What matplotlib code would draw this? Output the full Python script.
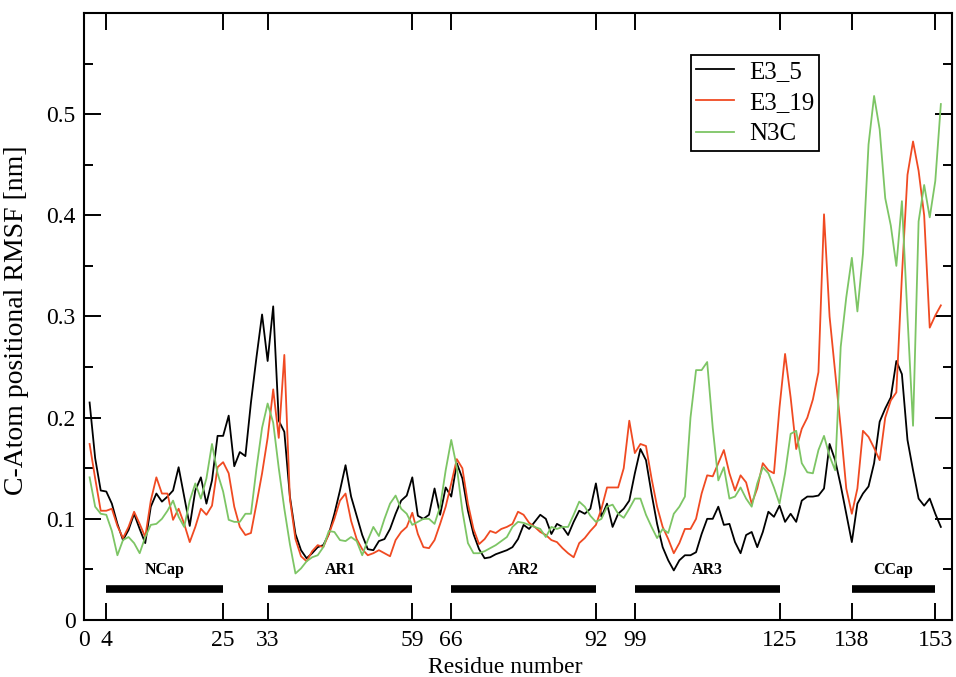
import numpy as np
import matplotlib
matplotlib.use("Agg")
import matplotlib.pyplot as plt
from matplotlib.ticker import FixedLocator, MultipleLocator

plt.rcParams['font.family'] = ['Liberation Serif', 'DejaVu Serif']

residues = list(range(1, 155))

e3_5 = [0.215, 0.16, 0.128, 0.127, 0.115, 0.095, 0.079, 0.089, 0.105, 0.09,
        0.076, 0.112, 0.125, 0.117, 0.122, 0.128, 0.151, 0.122, 0.093, 0.128,
        0.141, 0.115, 0.138, 0.182, 0.182, 0.202, 0.152, 0.166, 0.162, 0.215,
        0.26, 0.302, 0.256, 0.31, 0.197, 0.186, 0.122, 0.085, 0.069, 0.061,
        0.066, 0.072, 0.074, 0.085, 0.105, 0.128, 0.153, 0.122, 0.103, 0.084,
        0.07, 0.069, 0.078, 0.08, 0.09, 0.105, 0.118, 0.123, 0.141, 0.103,
        0.1, 0.104, 0.13, 0.104, 0.131, 0.122, 0.155, 0.14, 0.108, 0.085,
        0.07, 0.061, 0.062, 0.065, 0.067, 0.069, 0.072, 0.08, 0.094, 0.09,
        0.097, 0.104, 0.1, 0.085, 0.095, 0.092, 0.084, 0.097, 0.108, 0.105,
        0.11, 0.135, 0.102, 0.115, 0.092, 0.105, 0.11, 0.118, 0.145, 0.169,
        0.158, 0.125, 0.095, 0.072, 0.059, 0.049, 0.059, 0.064, 0.064, 0.067,
        0.085, 0.1, 0.1, 0.112, 0.094, 0.095, 0.077, 0.066, 0.084, 0.087,
        0.072, 0.087, 0.107, 0.102, 0.113, 0.097, 0.105, 0.097, 0.118, 0.122,
        0.122, 0.123, 0.13, 0.174, 0.158, 0.133, 0.105, 0.077, 0.115, 0.125,
        0.132, 0.155, 0.196, 0.209, 0.22, 0.256, 0.243, 0.178, 0.148, 0.12,
        0.113, 0.12, 0.105, 0.092]

e3_19 = [0.174, 0.14, 0.108, 0.108, 0.11, 0.093, 0.081, 0.092, 0.107, 0.095,
         0.082, 0.118, 0.141, 0.125, 0.125, 0.099, 0.11, 0.095, 0.077, 0.092,
         0.11, 0.104, 0.113, 0.151, 0.156, 0.145, 0.112, 0.092, 0.084, 0.086,
         0.115, 0.145, 0.18, 0.228, 0.18, 0.262, 0.12, 0.08, 0.063, 0.058,
         0.068, 0.074, 0.072, 0.085, 0.1, 0.118, 0.125, 0.098, 0.08, 0.07,
         0.064, 0.066, 0.069, 0.066, 0.063, 0.079, 0.087, 0.092, 0.106, 0.085,
         0.072, 0.071, 0.079, 0.095, 0.112, 0.135, 0.159, 0.15, 0.115, 0.09,
         0.075, 0.08, 0.088, 0.086, 0.09, 0.092, 0.095, 0.107, 0.104, 0.096,
         0.092, 0.087, 0.084, 0.079, 0.077, 0.071, 0.066, 0.062, 0.076, 0.081,
         0.088, 0.094, 0.11, 0.131, 0.131, 0.131, 0.15, 0.197, 0.165, 0.174,
         0.172, 0.14, 0.112, 0.092, 0.08, 0.066, 0.076, 0.09, 0.09, 0.1,
         0.125, 0.143, 0.142, 0.155, 0.168, 0.145, 0.128, 0.143, 0.136, 0.115,
         0.13, 0.155, 0.148, 0.145, 0.21, 0.263, 0.22, 0.169, 0.189, 0.2,
         0.218, 0.245, 0.401, 0.3, 0.245, 0.19, 0.13, 0.105, 0.13, 0.187,
         0.181, 0.17, 0.158, 0.2, 0.217, 0.225, 0.34, 0.44, 0.473, 0.444,
         0.4, 0.289, 0.301, 0.311]

n3c = [0.141, 0.112, 0.105, 0.104, 0.088, 0.064, 0.079, 0.082, 0.076, 0.066,
       0.082, 0.094, 0.095, 0.1, 0.108, 0.118, 0.102, 0.092, 0.118, 0.135,
       0.12, 0.14, 0.174, 0.145, 0.127, 0.099, 0.097, 0.097, 0.105, 0.105,
       0.15, 0.19, 0.214, 0.195, 0.15, 0.11, 0.075, 0.046, 0.051, 0.058,
       0.062, 0.064, 0.072, 0.088, 0.087, 0.079, 0.078, 0.082, 0.078, 0.064,
       0.079, 0.092, 0.083, 0.1, 0.115, 0.123, 0.11, 0.105, 0.094, 0.097,
       0.1, 0.1, 0.095, 0.112, 0.148, 0.178, 0.151, 0.108, 0.076, 0.066,
       0.066, 0.068, 0.071, 0.074, 0.078, 0.082, 0.092, 0.097, 0.096, 0.094,
       0.092, 0.09, 0.082, 0.092, 0.09, 0.092, 0.092, 0.104, 0.117, 0.112,
       0.103, 0.097, 0.1, 0.112, 0.114, 0.105, 0.101, 0.11, 0.12, 0.12,
       0.104, 0.092, 0.081, 0.09, 0.086, 0.105, 0.112, 0.122, 0.2, 0.247,
       0.247, 0.255, 0.19, 0.138, 0.151, 0.12, 0.122, 0.131, 0.12, 0.112,
       0.135, 0.151, 0.145, 0.131, 0.115, 0.145, 0.184, 0.187, 0.155, 0.146,
       0.145, 0.168, 0.182, 0.162, 0.148, 0.27, 0.319, 0.358, 0.305, 0.362,
       0.47, 0.518, 0.485, 0.417, 0.39, 0.35, 0.414, 0.3, 0.192, 0.394,
       0.43, 0.398, 0.434, 0.51]

# structural segments: name, first residue, last residue
seg_names = ["NCap", "AR1", "AR2", "AR3", "CCap"]
seg_start = [4, 33, 66, 99, 138]
seg_end = [25, 59, 92, 125, 153]

xticks = [0, 4, 25, 33, 59, 66, 92, 99, 125, 138, 153]

fig = plt.figure(figsize=(9.56, 6.77), dpi=100)
ax = fig.add_axes([0.0879, 0.0842, 0.9079, 0.8966])

ax.plot(residues, e3_5, color='black', lw=1.3, label='E3_5')
ax.plot(residues, e3_19, color='#f04a22', lw=1.3, label='E3_19')
ax.plot(residues, n3c, color='#7dc565', lw=1.3, label='N3C')

# segment bars
for name, s, e in zip(seg_names, seg_start, seg_end):
    ax.plot([s, e], [0.031, 0.031], color='black', lw=5.5, solid_capstyle='butt')
    ax.text((s + e) / 2, 0.049, name, ha='center', va='center',
            fontsize=11.5, fontweight='bold')

ax.set_xlim(0, 156)
ax.set_ylim(0, 0.6)
ax.xaxis.set_major_locator(FixedLocator(xticks))
ax.yaxis.set_major_locator(FixedLocator([0, 0.1, 0.2, 0.3, 0.4, 0.5]))
ax.yaxis.set_minor_locator(FixedLocator([0.05, 0.15, 0.25, 0.35, 0.45, 0.55]))
ax.set_yticklabels(['0', '0.1', '0.2', '0.3', '0.4', '0.5'])

ax.tick_params(which='both', direction='in', top=True, right=True,
               width=1.4, labelsize=17)
ax.tick_params(which='major', length=12)
ax.tick_params(which='minor', length=6.5)
ax.tick_params(axis='x', pad=7)
ax.tick_params(axis='y', pad=6)
for sp in ax.spines.values():
    sp.set_linewidth(1.5)

ax.set_xlabel('Residue number', fontsize=17)
ax.xaxis.set_label_coords(0.485, -0.061)
ax.set_ylabel('C-Atom positional RMSF [nm]', fontsize=20)
ax.yaxis.set_label_coords(-0.063, 0.494)

leg = ax.legend(loc='upper left', bbox_to_anchor=(0.699, 0.931), borderaxespad=0,
                fontsize=18, fancybox=False, framealpha=1, edgecolor='black',
                handlelength=1.5, handletextpad=0.6, labelspacing=0.35,
                borderpad=0.22)
leg.get_frame().set_linewidth(1.3)

plt.savefig('out.png', dpi=100)
